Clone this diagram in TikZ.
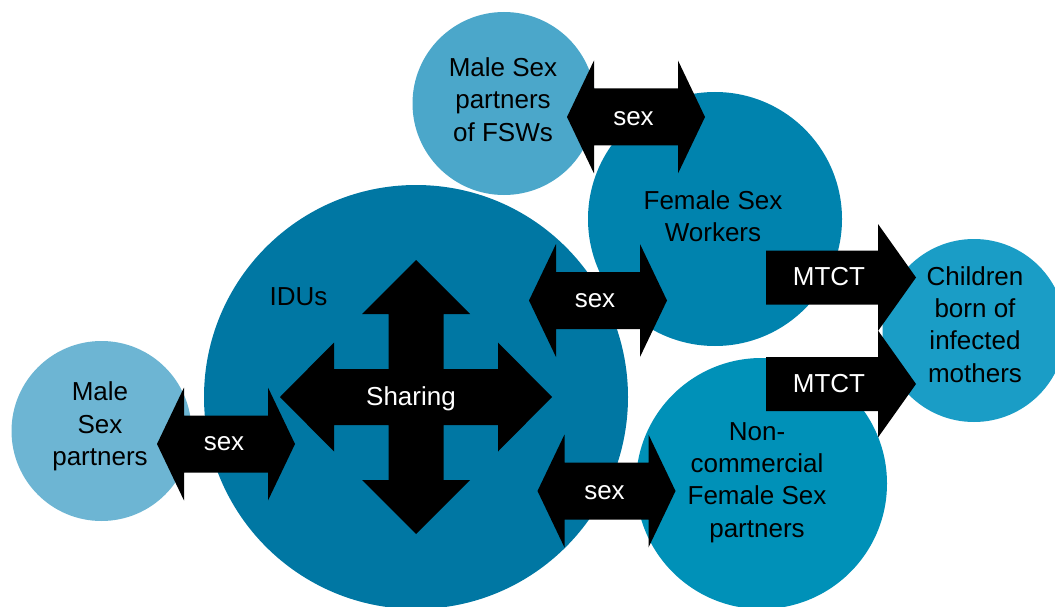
\documentclass[tikz,border=0pt]{standalone}
\usepackage{fontspec}
\setmainfont{Liberation Sans}
\usepackage{tikz}
\usetikzlibrary{calc}

\definecolor{MaleFSWBlue}{HTML}{4BA7CA}
\definecolor{MaleBlue}{HTML}{6DB5D3}
\definecolor{IDUBlue}{HTML}{0077A3}
\definecolor{FSWBlue}{HTML}{0083AE}
\definecolor{NCBlue}{HTML}{0091B8}
\definecolor{ChildBlue}{HTML}{1A9DC6}

\tikzset{
	group/.style={circle, inner sep=0pt, draw=none},
	grouplabel/.style={align=center, text=black, inner sep=0pt},
	arrowlabel/.style={text=white, inner sep=0pt}
}

% black block arrow with two heads, centred at #1
\newcommand{\sexarrow}[1]{%
	\fill[black] ($ #1+(-69,0) $) -- ++(27,-56.5) -- ++(0,28) -- ++(84,0) -- ++(0,-28)
		-- ++(27,56.5) -- ++(-27,56.5) -- ++(0,-28) -- ++(-84,0) -- ++(0,28) -- cycle;}
% black block arrow with one head, shaft starting at #1
\newcommand{\mtctarrow}[1]{%
	\fill[black] #1 -- ++(0,-27) -- ++(112,0) -- ++(0,-26.5) -- ++(38,53.5)
		-- ++(-38,53.5) -- ++(0,-26.5) -- ++(-112,0) -- cycle;}

\begin{document}
\begin{tikzpicture}[x=1pt, y=-1pt, font=\fontsize{26}{32.3}\selectfont]

	\useasboundingbox (0,0) rectangle (1055,607);

	% the groups
	\node[group, fill=MaleFSWBlue, minimum size=183pt] (msfsw) at (504,103.5) {};
	\node[group, fill=FSWBlue, minimum size=254pt] (fsw) at (715,219) {};
	\node[group, fill=IDUBlue, minimum size=424pt] (idu) at (416,397) {};
	\node[group, fill=MaleBlue, minimum size=180pt] (msp) at (101.5,431) {};
	\node[group, fill=NCBlue, minimum size=251pt] (ncfsp) at (761.5,483.5) {};
	\node[group, fill=ChildBlue, minimum size=183pt] (child) at (974,330.5) {};

	\node[grouplabel] (msfswtext) at (503,99.5) {Male Sex\\partners\\of FSWs};
	\node[grouplabel] (fswtext) at (713,216.5) {Female Sex\\Workers};
	\node[grouplabel] (idutext) at (298.5,296.5) {IDUs};
	\node[grouplabel] (msptext) at (100,426.5) {Male\\Sex\\partners};
	\node[grouplabel] (ncfsptext) at (757,482.5) {Non-\\commercial\\Female Sex\\partners};
	\node[grouplabel] (childtext) at (975,324.5) {Children\\born of\\infected\\mothers};

	% sex links
	\coordinate (sexTop) at (636,117);
	\coordinate (sexLeft) at (226,444);
	\coordinate (sexMid) at (598,300.5);
	\coordinate (sexLow) at (606.5,491);
	\sexarrow{(sexTop)}
	\sexarrow{(sexLeft)}
	\sexarrow{(sexMid)}
	\sexarrow{(sexLow)}
	\node[arrowlabel] (sexTopText) at (633.5,118.5) {sex};
	\node[arrowlabel] (sexLeftText) at (224,444) {sex};
	\node[arrowlabel] (sexMidText) at (595,301) {sex};
	\node[arrowlabel] (sexLowText) at (604.5,492.5) {sex};

	% mother to child
	\coordinate (mtctTop) at (766,277.5);
	\coordinate (mtctLow) at (766,384);
	\mtctarrow{(mtctTop)}
	\mtctarrow{(mtctLow)}
	\node[arrowlabel] (mtctTopText) at (829,277) {MTCT};
	\node[arrowlabel] (mtctLowText) at (829,384) {MTCT};

	% sharing inside the IDUs
	\coordinate (share) at (416,397);
	\fill[black, shift={(share)}] (0,-137) -- (54,-83) -- (27.5,-83) -- (27.5,-28)
		-- (82,-28) -- (82,-54.5) -- (136,0) -- (82,54.5) -- (82,28) -- (27.5,28)
		-- (27.5,83) -- (54,83) -- (0,137) -- (-54,83) -- (-27.5,83) -- (-27.5,28)
		-- (-82,28) -- (-82,54.5) -- (-136,0) -- (-82,-54.5) -- (-82,-28) -- (-27.5,-28)
		-- (-27.5,-83) -- (-54,-83) -- cycle;
	\node[arrowlabel] (sharetext) at (411,398.5) {Sharing};

\end{tikzpicture}
\end{document}
